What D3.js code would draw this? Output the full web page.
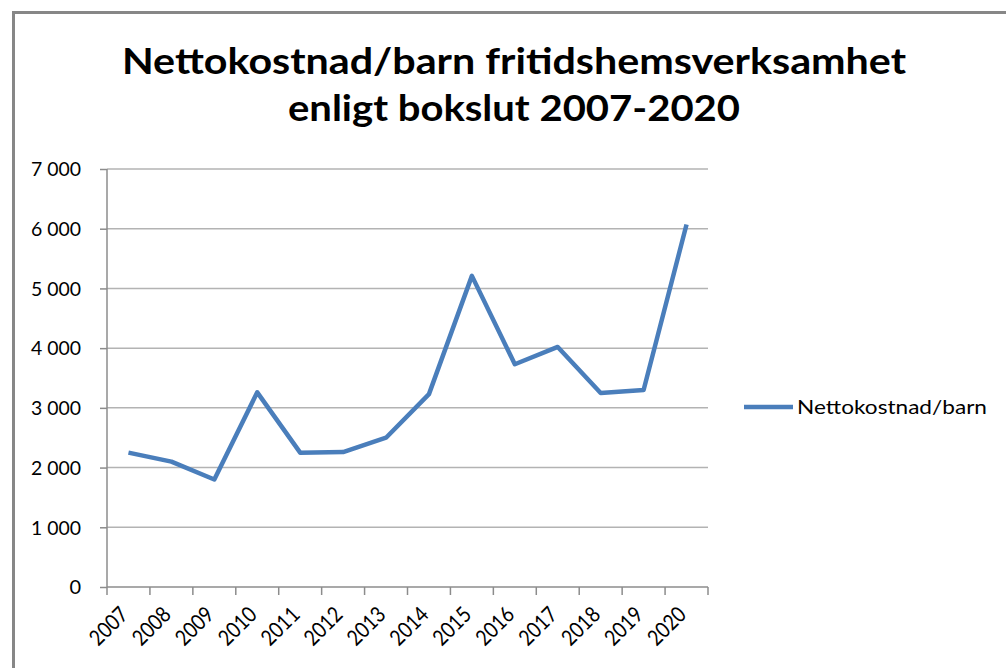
<!DOCTYPE html>
<html><head><meta charset="utf-8">
<script src="https://cdn.jsdelivr.net/npm/d3@7"></script>
<style>body{margin:0;background:#fff}svg{display:block}</style>
</head><body>
<svg id="c" width="1006" height="668"></svg>
<script>
const titleLines = ["Nettokostnad/barn fritidshemsverksamhet", "enligt bokslut 2007-2020"];
const seriesName = "Nettokostnad/barn";
const years = ["2007","2008","2009","2010","2011","2012","2013","2014","2015","2016","2017","2018","2019","2020"];
const values = [2250, 2100, 1800, 3260, 2250, 2260, 2500, 3230, 5210, 3730, 4020, 3250, 3300, 6070];
const yTicks = [0, 1000, 2000, 3000, 4000, 5000, 6000, 7000];

const svg = d3.select("#c");
const font = "Lato, 'Open Sans', sans-serif";
const m = {left: 107, right: 708, top: 169, bottom: 587};

// frame
svg.append("path").attr("d", "M13.5,700 V12.5 H1020").attr("fill","none").attr("stroke","#878787").attr("stroke-width",3);

// title
const tw = [784, 452];
titleLines.forEach((t,i)=>{
  svg.append("text").attr("x", 514).attr("y", 74 + i*47).attr("text-anchor","middle")
    .attr("font-family", font).attr("font-weight","bold").attr("font-size", 36).attr("fill","#000")
    .attr("textLength", tw[i]).attr("lengthAdjust","spacingAndGlyphs").text(t);
});

const x = d3.scaleBand().domain(years).range([m.left, m.right]);
const y = d3.scaleLinear().domain([0, 7000]).range([m.bottom, m.top]);
const fmt = v => d3.format(",")(v).replace(/,/g, " ");

// gridlines
svg.append("g").selectAll("line").data(yTicks.filter(d=>d>0)).join("line")
  .attr("x1", m.left).attr("x2", m.right).attr("y1", d=>y(d)).attr("y2", d=>y(d))
  .attr("stroke","#b3b3b3").attr("stroke-width",1.5);

// y axis
const yAxis = svg.append("g").attr("transform", `translate(${m.left},0)`)
  .call(d3.axisLeft(y).tickValues(yTicks).tickFormat(fmt).tickSize(7).tickPadding(19));
yAxis.select(".domain").attr("stroke","#8c8c8c").attr("stroke-width",1.5).attr("d", `M0,${m.top}V${m.bottom}`);
yAxis.selectAll(".tick line").attr("stroke","#8c8c8c").attr("stroke-width",1.5);
yAxis.selectAll("text").attr("font-family", font).attr("font-size", 20).attr("fill","#000")
  .attr("dy","0.34em")
  .each(function(d){ if (d >= 1000) d3.select(this).attr("textLength", 50).attr("lengthAdjust","spacingAndGlyphs"); });

// x axis
const xAxis = svg.append("g").attr("transform", `translate(0,${m.bottom})`)
  .call(d3.axisBottom(x).tickSize(0).tickFormat(d=>d));
xAxis.select(".domain").attr("stroke","#8c8c8c").attr("stroke-width",1.5).attr("d", `M${m.left},0H${m.right}`);
const edges = years.map(d=>x(d)).concat([m.right]);
xAxis.append("g").selectAll("line").data(edges).join("line")
  .attr("x1", d=>d).attr("x2", d=>d).attr("y1", 0).attr("y2", 8)
  .attr("stroke","#8c8c8c").attr("stroke-width",1.5);
xAxis.selectAll(".tick text").attr("font-family", font).attr("font-size", 22).attr("fill","#000")
  .attr("text-anchor","end").attr("dy", 0).attr("y", 0)
  .attr("textLength", 44).attr("lengthAdjust","spacingAndGlyphs")
  .attr("transform", "translate(1,29) rotate(-45)");

// line
const line = d3.line().x((d,i)=>x(years[i]) + x.bandwidth()/2).y(d=>y(d));
svg.append("path").datum(values).attr("d", line).attr("fill","none")
  .attr("stroke","#4a7ebb").attr("stroke-width",4.5).attr("stroke-linejoin","round");

// legend
svg.append("line").attr("x1",744).attr("x2",793).attr("y1",407).attr("y2",407)
  .attr("stroke","#4a7ebb").attr("stroke-width",4.5);
svg.append("text").attr("x",797).attr("y",414).attr("font-family",font).attr("font-size",20)
  .attr("textLength",190).attr("lengthAdjust","spacingAndGlyphs")
  .attr("fill","#000").text(seriesName);
</script>
</body></html>
